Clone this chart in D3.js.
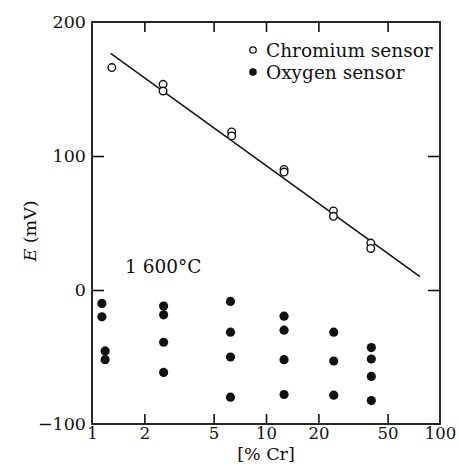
<!DOCTYPE html>
<html>
<head>
<meta charset="utf-8">
<script src="https://cdn.jsdelivr.net/npm/d3@7"></script>
<style>
  body { margin: 0; background: #fff; }
  svg text { font-family: "DejaVu Serif", "Liberation Serif", serif; fill: #111; }
</style>
</head>
<body>
<svg id="chart" width="459" height="475"></svg>
<script>
// chromium sensor (open circles)
const crX = [1.30, 2.56, 2.56, 6.35, 6.35, 12.7, 12.7, 24.4, 24.4, 40, 40];
const crE = [166, 153.5, 148.5, 118, 115, 90, 88, 59, 55, 35, 31];

// oxygen sensor (filled dots)
const oxX = [1.14, 1.14, 1.19, 1.19,
             2.58, 2.58, 2.58, 2.58,
             6.25, 6.25, 6.25, 6.25,
             12.7, 12.7, 12.7, 12.7,
             24.5, 24.5, 24.5,
             40.3, 40.3, 40.3, 40.3];
const oxE = [-10, -20, -45.5, -52,
             -12, -18.5, -39, -61.5,
             -8.5, -31.5, -50, -80,
             -19.5, -30, -52, -78,
             -31.5, -53, -78.5,
             -43, -51.5, -64.5, -82.5];

// regression line end points
const fitX = [1.28, 76.7];
const fitE = [176.6, 10];

const xTicks = [1, 2, 5, 10, 20, 50, 100];
const xInner = [2, 5, 10, 20, 50];
const yTicks = [-100, 0, 100, 200];

const svg = d3.select('#chart');

const x = d3.scaleLog().domain([1, 100]).range([92, 440]);
const y = d3.scaleLinear().domain([-100, 200]).range([424, 22]);

const ink = '#111';

// bottom labels
const bottom = svg.append('g')
    .attr('transform', `translate(0,${y(-100)})`)
    .call(d3.axisBottom(x).tickValues(xTicks).tickFormat(d3.format('d')).tickSize(0).tickPadding(3));
bottom.select('.domain').remove();
bottom.selectAll('text').attr('font-size', 16.5).attr('font-family', '"DejaVu Serif", serif').attr('fill', ink);

// inward ticks top & bottom
svg.append('g')
    .attr('transform', `translate(0,${y(-100)})`)
    .call(d3.axisBottom(x).tickValues(xInner).tickFormat('').tickSize(-10))
    .call(g => g.select('.domain').remove());
svg.append('g')
    .attr('transform', `translate(0,${y(200)})`)
    .call(d3.axisTop(x).tickValues(xInner).tickFormat('').tickSize(-10))
    .call(g => g.select('.domain').remove());

// left axis
const left = svg.append('g')
    .attr('transform', `translate(${x(1)},0)`)
    .call(d3.axisLeft(y).tickValues(yTicks).tickFormat(d => d < 0 ? '\u2212' + Math.abs(d) : d).tickSize(-12).tickPadding(6));
left.select('.domain').remove();
left.selectAll('text').attr('font-size', 17.5).attr('font-family', '"DejaVu Serif", serif').attr('fill', ink);
left.selectAll('line').filter(d => d === -100 || d === 200).remove();

// right axis
svg.append('g')
    .attr('transform', `translate(${x(100)},0)`)
    .call(d3.axisRight(y).tickValues([0, 100]).tickFormat('').tickSize(-12))
    .call(g => g.select('.domain').remove());

svg.selectAll('.tick line').attr('stroke', ink).attr('stroke-width', 1.6);

// frame
svg.append('rect')
    .attr('x', x(1)).attr('y', y(200))
    .attr('width', x(100) - x(1)).attr('height', y(-100) - y(200))
    .attr('fill', 'none').attr('stroke', ink).attr('stroke-width', 1.8);

// regression line
svg.append('line')
    .attr('x1', x(fitX[0])).attr('y1', y(fitE[0]))
    .attr('x2', x(fitX[1])).attr('y2', y(fitE[1]))
    .attr('stroke', ink).attr('stroke-width', 1.5);

// chromium points
svg.append('g').selectAll('circle')
    .data(crX.map((d, i) => [d, crE[i]]))
    .join('circle')
    .attr('cx', d => x(d[0])).attr('cy', d => y(d[1]))
    .attr('r', 3.8)
    .attr('fill', '#fff').attr('stroke', ink).attr('stroke-width', 1.4);

// oxygen points
svg.append('g').selectAll('circle')
    .data(oxX.map((d, i) => [d, oxE[i]]))
    .join('circle')
    .attr('cx', d => x(d[0])).attr('cy', d => y(d[1]))
    .attr('r', 4.6)
    .attr('fill', ink);

// legend
const legend = svg.append('g');
legend.append('circle').attr('cx', 253).attr('cy', 50).attr('r', 3.2)
    .attr('fill', '#fff').attr('stroke', ink).attr('stroke-width', 1.3);
legend.append('text').attr('x', 266).attr('y', 56.5).attr('font-size', 18.5).text('Chromium sensor');
legend.append('circle').attr('cx', 253).attr('cy', 72).attr('r', 3.8).attr('fill', ink);
legend.append('text').attr('x', 266).attr('y', 78.5).attr('font-size', 18.5).text('Oxygen sensor');

// temperature note
svg.append('text').attr('x', 125).attr('y', 273).attr('font-size', 18.5).text('1 600°C');

// axis titles
svg.append('text').attr('x', 266).attr('y', 460).attr('text-anchor', 'middle')
    .attr('font-size', 17.5).text('[% Cr]');

const yl = svg.append('text')
    .attr('transform', 'translate(36,231) rotate(-90)')
    .attr('text-anchor', 'middle').attr('font-size', 17.5);
yl.append('tspan').attr('font-style', 'italic').text('E');
yl.append('tspan').text(' (mV)');
</script>
</body>
</html>
